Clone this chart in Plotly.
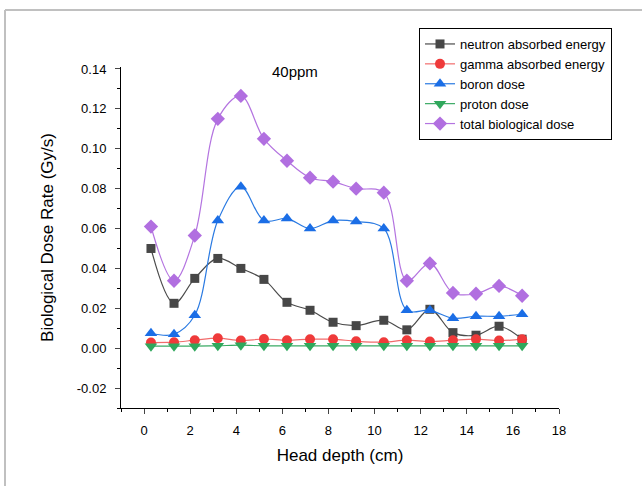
import plotly.graph_objects as go

depth = [0.3, 1.3, 2.2, 3.2, 4.2, 5.2, 6.2, 7.2, 8.2, 9.2, 10.4, 11.4, 12.4, 13.4, 14.4, 15.4, 16.4]
neutron = [0.050, 0.0225, 0.035, 0.045, 0.040, 0.0345, 0.023, 0.019, 0.013, 0.0113, 0.014, 0.0092, 0.0195, 0.0078, 0.0065, 0.011, 0.0045]
gamma = [0.0028, 0.003, 0.004, 0.005, 0.0038, 0.0046, 0.004, 0.0045, 0.0045, 0.0035, 0.003, 0.004, 0.0033, 0.004, 0.0045, 0.0038, 0.0045]
boron = [0.0075, 0.007, 0.0165, 0.064, 0.081, 0.064, 0.065, 0.060, 0.064, 0.0635, 0.060, 0.019, 0.019, 0.015, 0.016, 0.016, 0.017]
proton = [0.001, 0.001, 0.001, 0.0012, 0.0015, 0.0012, 0.0012, 0.0012, 0.0012, 0.0012, 0.0012, 0.0012, 0.0012, 0.0012, 0.0012, 0.0012, 0.0012]
total = [0.061, 0.0338, 0.0565, 0.115, 0.1265, 0.105, 0.094, 0.0855, 0.0835, 0.080, 0.078, 0.0338, 0.0425, 0.0277, 0.0273, 0.0312, 0.0263]

x_tickvals = [0, 2, 4, 6, 8, 10, 12, 14, 16, 18]
y_tickvals = [-0.02, 0.0, 0.02, 0.04, 0.06, 0.08, 0.10, 0.12, 0.14]
y_ticktext = ["-0.02", "0.00", "0.02", "0.04", "0.06", "0.08", "0.10", "0.12", "0.14"]

series = [
    ("neutron absorbed energy", neutron, "#4b4b4b", "#474747", "square", 9),
    ("gamma absorbed energy", gamma, "#f26b6b", "#ef3a3a", "circle", 10),
    ("boron dose", boron, "#2a7ae2", "#1b6ee6", "triangle-up", 11),
    ("proton dose", proton, "#3aaa64", "#2fa85c", "triangle-down", 11),
    ("total biological dose", total, "#b474e0", "#b16fe0", "diamond", 11),
]

fig = go.Figure()
for name, ys, lc, mc, sym, sz in series:
    fig.add_trace(go.Scatter(
        x=depth, y=ys, name=name, mode="lines+markers",
        line=dict(color=lc, width=1.2, shape="spline", smoothing=1.0),
        marker=dict(symbol=sym, size=sz, color=mc),
    ))

fig.add_annotation(x=6.55, y=0.1385, text="40ppm", showarrow=False,
                   font=dict(size=15, color="black"), xref="x", yref="y")

W, L, R, T, B = 642, 121, 83, 67, 78
pw, ph = W - L - R, 486 - T - B
def px(xp):
    return (xp - L) / pw
def py(yp):
    return (486 - B - yp) / ph

fig.add_shape(type="line", xref="paper", yref="paper", x0=px(5), x1=px(642), y0=py(10), y1=py(10),
              line=dict(color="#c0c0c0", width=2))
fig.add_shape(type="line", xref="paper", yref="paper", x0=px(5), x1=px(5), y0=py(10), y1=py(486),
              line=dict(color="#c0c0c0", width=2))

fig.update_layout(
    width=642, height=486,
    margin=dict(l=L, r=R, t=T, b=B, autoexpand=False),
    paper_bgcolor="white", plot_bgcolor="white",
    font=dict(family="Arial, Liberation Sans, sans-serif", color="black", size=13),
    showlegend=True,
    legend=dict(x=px(419), y=py(28), xanchor="left", yanchor="top",
                bordercolor="black", borderwidth=1, bgcolor="white",
                font=dict(size=13), tracegroupgap=0, itemwidth=30),
    xaxis=dict(range=[-1, 18], tickvals=x_tickvals, ticks="outside", ticklen=5, tickwidth=1,
               showline=True, linecolor="black", linewidth=1, showgrid=False, zeroline=False,
               automargin=False, ticklabelstandoff=5,
               minor=dict(dtick=1, tick0=-1, ticks="outside", ticklen=3, tickcolor="black", showgrid=False),
               title=dict(text="Head depth (cm)", font=dict(size=17), standoff=12),
               tickfont=dict(size=13)),
    yaxis=dict(range=[-0.03, 0.141], tickvals=y_tickvals, ticktext=y_ticktext, ticks="outside",
               ticklen=5, tickwidth=1, showline=True, linecolor="black", linewidth=1,
               showgrid=False, zeroline=False, automargin=False, ticklabelstandoff=6,
               minor=dict(dtick=0.01, tick0=0, ticks="outside", ticklen=3, tickcolor="black", showgrid=False),
               title=dict(text="Biological Dose Rate (Gy/s)", font=dict(size=17), standoff=18),
               tickfont=dict(size=13)),
)

fig.write_html("out.html", config={"displayModeBar": False},
               post_script="document.body.style.margin='0';document.body.style.overflow='hidden';")
